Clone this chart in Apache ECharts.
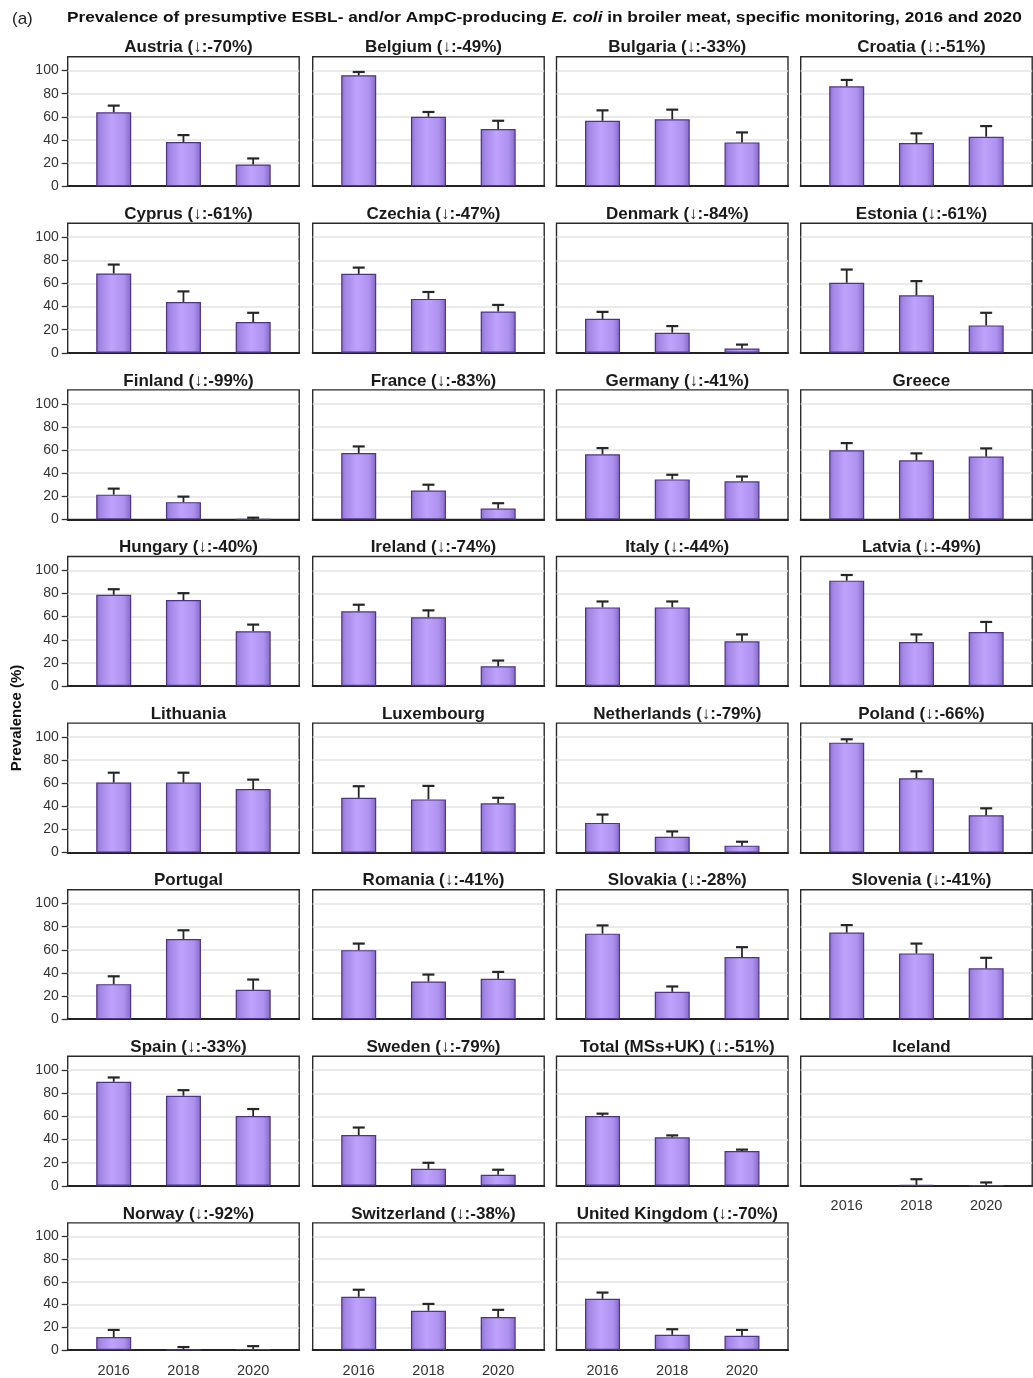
<!DOCTYPE html>
<html>
<head>
<meta charset="utf-8">
<script src="https://cdn.jsdelivr.net/npm/echarts@6/dist/echarts.min.js"></script>
<style>
html,body{margin:0;padding:0;background:#fff;}
#chart{width:1033px;height:1378px;}
</style>
</head>
<body>
<div id="chart"></div>
<script>
const panelTitles = ['Austria (↓:-70%)', 'Belgium (↓:-49%)', 'Bulgaria (↓:-33%)', 'Croatia (↓:-51%)',
  'Cyprus (↓:-61%)', 'Czechia (↓:-47%)', 'Denmark (↓:-84%)', 'Estonia (↓:-61%)',
  'Finland (↓:-99%)', 'France (↓:-83%)', 'Germany (↓:-41%)', 'Greece',
  'Hungary (↓:-40%)', 'Ireland (↓:-74%)', 'Italy (↓:-44%)', 'Latvia (↓:-49%)',
  'Lithuania', 'Luxembourg', 'Netherlands (↓:-79%)', 'Poland (↓:-66%)',
  'Portugal', 'Romania (↓:-41%)', 'Slovakia (↓:-28%)', 'Slovenia (↓:-41%)',
  'Spain (↓:-33%)', 'Sweden (↓:-79%)', 'Total (MSs+UK) (↓:-51%)', 'Iceland',
  'Norway (↓:-92%)', 'Switzerland (↓:-38%)', 'United Kingdom (↓:-70%)'];

const years = [2016, 2018, 2020];
const yTicks = [0, 20, 40, 60, 80, 100];

const prev2016 = [63.9, 96, 56.6, 86.4, 68.6, 68.3, 29.4, 60.6, 21.4, 57.4, 56.3, 59.7, 78.9, 64.6, 68, 91.1, 60.6, 47.4, 25.7, 95.1, 30.3, 59.7, 74, 74.9, 90, 43.9, 60.4, null, 11.4, 46.9, 45.1];
const upper2016 = [69.7, 98.8, 65.6, 91.9, 76.3, 73.7, 35.4, 72, 26.6, 63.1, 61.7, 66, 83.7, 70.3, 73.1, 96, 69.1, 57.4, 32.9, 98, 37.1, 65.4, 81.1, 81.4, 93.7, 50.4, 62.4, null, 17.7, 53.1, 50.6];
const prev2018 = [38.2, 60.1, 57.8, 37.3, 44, 46.6, 17.4, 49.7, 14.9, 24.9, 34.6, 51.1, 74.3, 59.4, 68, 38, 60.6, 46, 13.7, 64.3, 69.4, 32.6, 23.7, 56.9, 77.9, 14.7, 41.9, 0.8, 0.3, 34.6, 13.4];
const upper2018 = [44.2, 64.2, 66.2, 45.7, 53.1, 52.6, 23.1, 62, 19.7, 30, 38.6, 57.1, 80.3, 65.4, 73.1, 44.6, 69.1, 57.7, 18.3, 70.3, 76.9, 38.6, 28.3, 65.4, 82.7, 19.9, 43.6, 5.7, 2.6, 40.6, 18.3];
const prev2020 = [18.8, 49.4, 37.9, 42.8, 26.6, 35.7, 3.7, 23.7, 0.2, 9.4, 32.9, 54.3, 47.4, 17.1, 38.6, 46.6, 54.9, 42.6, 6, 32.3, 25.4, 34.9, 53.7, 44, 60.4, 9.6, 30.1, 0.3, 0.9, 29.1, 12.6];
const upper2020 = [24, 56.6, 46.5, 52, 34.6, 41.4, 7.1, 34.6, 1.5, 14, 37.1, 61.4, 53.1, 22, 44.6, 55.4, 63.1, 47.4, 9.4, 38.3, 34.3, 40.9, 62.3, 53.1, 66.4, 13.9, 31.3, 2.9, 3.4, 35.4, 17.7];

const colLeft = [67.7, 312.7, 556.5, 800.7];
const gridW = 231.5, gridH = 129.5, top0 = 56.7, rowStep = 166.6;
const FONT = 'Liberation Sans, Arial, Helvetica, sans-serif';

const barGradient = {
  type: 'linear', x: 0, y: 0, x2: 1, y2: 0,
  colorStops: [
    {offset: 0, color: '#8a6bcb'},
    {offset: 0.12, color: '#a487e6'},
    {offset: 0.45, color: '#bea2fb'},
    {offset: 0.8, color: '#ad91ef'},
    {offset: 1, color: '#8567c6'}
  ]
};

const grids = [], xAxes = [], yAxes = [], series = [], titles = [];

titles.push({
  text: '(a)', left: 7, top: 6,
  textStyle: {fontFamily: FONT, fontSize: 17, fontWeight: 'normal', color: '#222'}
});

panelTitles.forEach((name, i) => {
  const r = Math.floor(i / 4), c = i % 4;
  const top = top0 + r * rowStep;
  const left = colLeft[c];
  grids.push({
    left: left, top: top, width: gridW, height: gridH,
    show: true, borderColor: '#2a2a2a', borderWidth: 1.4, backgroundColor: '#fff'
  });
  titles.push({
    text: name, left: left + gridW / 2, top: top - 22.5, textAlign: 'center',
    textStyle: {fontFamily: FONT, fontSize: 17, fontWeight: 'bold', color: '#1a1a1a'}
  });
  const showX = i >= 27;
  xAxes.push({
    type: 'value', gridIndex: i, min: 2014.68, max: 2021.32,
    axisLine: {show: true, onZero: false, lineStyle: {color: '#222', width: 2}},
    axisTick: {show: false},
    splitLine: {show: false},
    axisLabel: {
      show: showX, customValues: years, margin: 13,
      fontFamily: FONT, fontSize: 14.5, color: '#333',
      formatter: v => String(v)
    }
  });
  yAxes.push({
    type: 'value', gridIndex: i, min: 0, max: 112,
    axisLine: {show: false},
    axisTick: {show: c === 0, customValues: yTicks, length: 6, lineStyle: {color: '#333', width: 1.3}},
    splitLine: {show: true, lineStyle: {color: '#e3e3e3', width: 1.5}},
    axisLabel: {
      show: c === 0, customValues: yTicks, margin: 9,
      fontFamily: FONT, fontSize: 14, color: '#333'
    }
  });
  const barData = [], errData = [];
  const vals = [prev2016[i], prev2018[i], prev2020[i]];
  const ups = [upper2016[i], upper2018[i], upper2020[i]];
  years.forEach((y, k) => {
    if (vals[k] !== null) {
      barData.push([y, vals[k]]);
      errData.push([y, vals[k], ups[k]]);
    }
  });
  series.push({
    type: 'bar', xAxisIndex: i, yAxisIndex: i, barWidth: 35,
    data: barData, silent: true, animation: false,
    itemStyle: {color: barGradient, borderColor: '#4c3584', borderWidth: 1.2}
  });
  series.push({
    type: 'custom', xAxisIndex: i, yAxisIndex: i, silent: true, animation: false,
    data: errData, z: 5,
    encode: {x: 0, y: [1, 2]},
    renderItem: function (params, api) {
      const x = api.value(0);
      const p0 = api.coord([x, api.value(1)]);
      const p1 = api.coord([x, api.value(2)]);
      const cap = 6;
      return {
        type: 'group',
        children: [
          {type: 'line', shape: {x1: p0[0], y1: p0[1], x2: p1[0], y2: p1[1]},
           style: {stroke: '#262626', lineWidth: 1.8}},
          {type: 'line', shape: {x1: p1[0] - cap, y1: p1[1], x2: p1[0] + cap, y2: p1[1]},
           style: {stroke: '#262626', lineWidth: 2.2}}
        ]
      };
    }
  });
});

const chart = echarts.init(document.getElementById('chart'), null, {renderer: 'canvas'});
chart.setOption({
  animation: false,
  backgroundColor: '#fff',
  title: titles,
  grid: grids,
  xAxis: xAxes,
  yAxis: yAxes,
  series: series,
  graphic: [{
    type: 'text', x: 17, y: 718, rotation: Math.PI / 2,
    style: {
      text: 'Prevalence (%)', fontFamily: FONT, fontSize: 15, fontWeight: 'bold',
      fill: '#111', align: 'center', verticalAlign: 'middle'
    }
  }, {
    type: 'text', x: 67, y: 18, scaleX: 1.2, scaleY: 1,
    style: {
      text: '{b|Prevalence of presumptive ESBL- and/or AmpC-producing }{i|E. coli}{b| in broiler meat, specific monitoring, 2016 and 2020}',
      align: 'left', verticalAlign: 'middle',
      rich: {
        b: {fontFamily: FONT, fontSize: 14.4, fontWeight: 'bold', fill: '#111'},
        i: {fontFamily: FONT, fontSize: 14.4, fontWeight: 'bold', fontStyle: 'italic', fill: '#111'}
      }
    }
  }]
});
</script>
</body>
</html>
